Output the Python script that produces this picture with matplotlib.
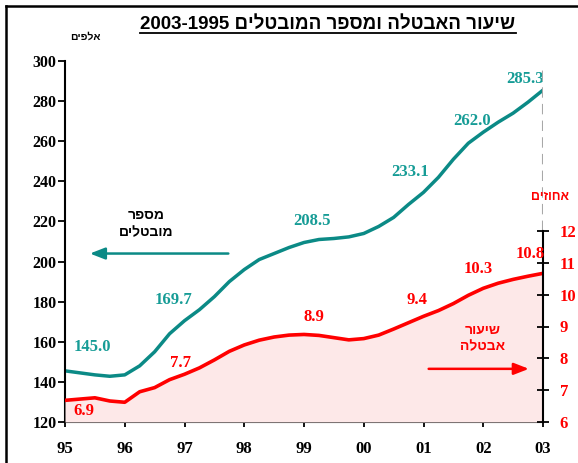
import numpy as np
import matplotlib
matplotlib.use("Agg")
import matplotlib.pyplot as plt
from matplotlib.lines import Line2D

plt.rcParams['font.family'] = ['Liberation Serif', 'DejaVu Serif']

# Data (quarterly)
quarters = np.arange(1995, 2003.01, 0.25)
unemployed = [145.5, 144.5, 143.5, 142.8, 143.5, 148.0, 155.0, 164.0,
              170.5, 176.0, 182.5, 190.0, 196.0, 201.0, 204.0, 207.0,
              209.5, 211.0, 211.5, 212.3, 214.0, 217.5, 222.0, 228.5,
              234.5, 242.0, 251.0, 259.0, 264.5, 269.5, 274.0, 279.5, 285.5]
rate = [6.68, 6.72, 6.76, 6.66, 6.62, 6.95, 7.08, 7.33,
        7.50, 7.70, 7.95, 8.22, 8.42, 8.57, 8.67, 8.73,
        8.75, 8.72, 8.65, 8.58, 8.62, 8.73, 8.92, 9.12,
        9.32, 9.50, 9.72, 9.98, 10.20, 10.36, 10.48, 10.58, 10.67]

year_ticks = list(range(1995, 2004))
year_labels = ["95", "96", "97", "98", "99", "00", "01", "02", "03"]

teal_values = ["145.0", "169.7", "208.5", "233.1", "262.0", "285.3"]
red_values = ["6.9", "7.7", "8.9", "9.4", "10.3", "10.8"]

# label placement (x in years, y in axis units)
teal_pos = [(1995.45, 157.5), (1996.82, 181), (1999.13, 220),
            (2000.77, 244.5), (2001.81, 270), (2002.7, 291)]
red_pos = [(1995.32, 6.35), (1996.94, 7.85), (1999.16, 9.30),
           (2000.89, 9.83), (2001.91, 10.81), (2002.78, 11.28)]

TEAL = "#0b8a86"
TEAL_TXT = "#169c96"
RED = "#ff0000"
PINK = "#fde8e8"
HEB = ['Liberation Sans', 'DejaVu Sans']


def rtl(s):
    """matplotlib has no bidi support: reverse Hebrew for display."""
    return s[::-1]


fig = plt.figure(figsize=(5.78, 4.63), dpi=100)
ax = fig.add_axes([65 / 578, 41 / 463, 478 / 578, 361 / 463])
ax2 = ax.twinx()

# left axis: number of unemployed
ax.plot(quarters, unemployed, color=TEAL, lw=2.5, solid_capstyle="butt")
ax.set_xlim(1995, 2003)
ax.set_ylim(120, 300)
ax.set_yticks(range(120, 301, 20))
ax.set_xticks(year_ticks)
ax.set_xticklabels(year_labels)
for s in ["top", "right"]:
    ax.spines[s].set_visible(False)
ax.spines["left"].set_linewidth(1.5)
ax.spines["bottom"].set_linewidth(1.5)
ax.tick_params(axis="y", direction="out", length=5, width=1.3, pad=1,
               labelsize=11.5)
ax.tick_params(axis="x", direction="inout", length=7, width=1.3, pad=10,
               labelsize=12)
for lbl in ax.get_xticklabels() + ax.get_yticklabels():
    lbl.set_fontweight("bold")

# right axis: unemployment rate (6..12 spans 191 px of the 361 px axes)
ax2.fill_between(quarters, 6, rate, color=PINK, lw=0)
ax2.plot(quarters, rate, color=RED, lw=2.6)
ax2.set_ylim(6, 6 + 6 * 361 / 191)
ax2.set_yticks(range(6, 13))
for s in ["top", "left", "bottom"]:
    ax2.spines[s].set_visible(False)
ax2.spines["right"].set_bounds(6, 12)
ax2.spines["right"].set_linewidth(1.5)
ax2.tick_params(axis="y", direction="inout", length=8, width=1.3, pad=8,
                labelsize=12, labelcolor=RED)
for lbl in ax2.get_yticklabels():
    lbl.set_fontweight("bold")
ax2.vlines(year_ticks[-1], 12, 17.05, colors="#a8a8a8", linestyles=(0, (5, 3)),
           lw=1.5)

# value labels
for txt, (x, y) in zip(teal_values, teal_pos):
    ax.text(x, y, txt, color=TEAL_TXT, fontsize=12, fontweight="bold",
            ha="center", va="center")
for txt, (x, y) in zip(red_values, red_pos):
    ax2.text(x, y, txt, color=RED, fontsize=12, fontweight="bold",
             ha="center", va="center")

# series captions and arrows
ax.text(1996.36, 219, rtl("מספר") + "\n" + rtl("מובטלים"), family=HEB,
        fontsize=10, fontweight="bold", ha="center", va="center",
        linespacing=1.25)
ax.annotate("", xy=(1995.37, 204), xytext=(1997.78, 204),
            arrowprops=dict(arrowstyle="-|>,head_length=0.9,head_width=0.35",
                            color=TEAL, lw=1.8))
ax2.text(2001.99, 8.64, rtl("שיעור") + "\n" + rtl("אבטלה"), family=HEB,
         color=RED, fontsize=10, fontweight="bold", ha="center",
         va="center", linespacing=1.25)
ax2.annotate("", xy=(2002.81, 7.67), xytext=(2001.04, 7.67),
             arrowprops=dict(arrowstyle="-|>,head_length=0.9,head_width=0.35",
                             color=RED, lw=1.8))

# axis unit captions
fig.text(85 / 578, 1 - 37 / 463, rtl("אלפים"), family=HEB, fontsize=7.5,
         fontweight="bold", ha="center", va="center")
fig.text(550 / 578, 1 - 197 / 463, rtl("אחוזים"), family=HEB, fontsize=9,
         fontweight="bold", color=RED, ha="center", va="center")

# title with underline
title = fig.text(328 / 578, 1 - 24 / 463,
                 "2003-1995 " + rtl("שיעור האבטלה ומספר המובטלים"),
                 family=HEB, fontsize=13.5, fontweight="bold",
                 ha="center", va="center")
fig.canvas.draw()
bb = title.get_window_extent().transformed(fig.transFigure.inverted())
fig.add_artist(Line2D([bb.x0, bb.x1], [1 - 33 / 463] * 2, color="black",
                      lw=1.3, transform=fig.transFigure))

# frame around the figure (cut at right and bottom)
fig.add_artist(Line2D([6 / 578, 6 / 578], [0, 1 - 6 / 463], color="black",
                      lw=1.8, transform=fig.transFigure))
fig.add_artist(Line2D([6 / 578, 1], [1 - 6 / 463] * 2, color="black",
                      lw=1.8, transform=fig.transFigure))

fig.savefig("out.png", dpi=100)
